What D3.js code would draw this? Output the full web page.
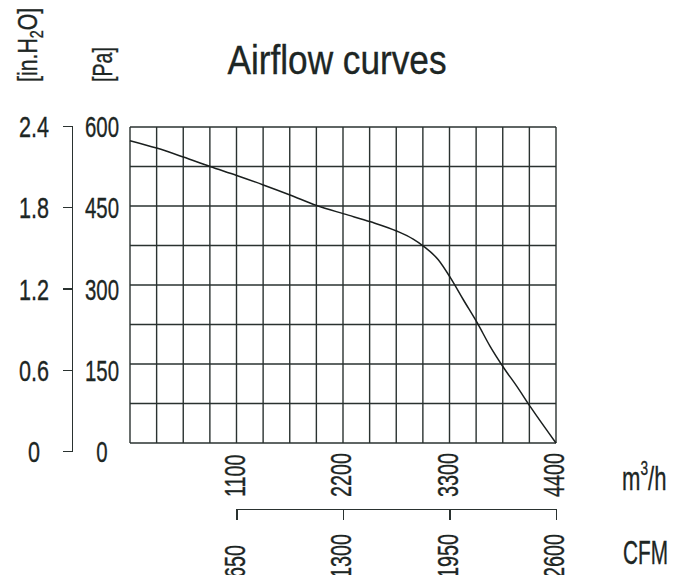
<!DOCTYPE html>
<html lang="en">
<head>
<meta charset="utf-8">
<title>Airflow curves</title>
<script src="https://d3js.org/d3.v7.min.js"></script>
<style>
body { margin: 0; background: #ffffff; }
svg text { font-family: "Liberation Sans Narrow", "Liberation Sans", Arial, sans-serif; fill: #1d2624; stroke: #1d2624; stroke-width: 0.35; }
.axis path, .axis line { fill: none; stroke: #2a3230; stroke-width: 1.3; shape-rendering: crispEdges; }
</style>
</head>
<body>
<script>
// curve: airflow [m3/h] vs static pressure [Pa]
var flowM3h    = [0, 275, 551, 826, 1102, 1377, 1653, 1928, 2210, 2485, 2760, 2925, 3036, 3184, 3312, 3443, 3587, 3718, 3863, 3994, 4138, 4400];
var pressurePa = [574, 560, 543, 525, 508, 490, 471, 451, 435, 420, 402, 387, 373, 348, 313, 272, 228, 184, 142, 108, 68, 0];

var flowTicks   = [1100, 2200, 3300, 4400];
var cfmTicks    = [650, 1300, 1950, 2600];
var paTicks     = [0, 150, 300, 450, 600];
var inH2OTicks  = [0, 0.6, 1.2, 1.8, 2.4];

var width = 674, height = 575;

var svg = d3.select("body").append("svg")
  .attr("width", width)
  .attr("height", height);

// plot area
var x = d3.scaleLinear().domain([0, 4400]).range([130, 556]);
var y = d3.scaleLinear().domain([0, 600]).range([443, 127]);
// label positions on the left run a little further down than the grid
var yLab = d3.scaleLinear().domain([0, 600]).range([451, 126]);
var yIn = d3.scaleLinear().domain([0, 2.4]).range([451, 126]);
var xCfm = d3.scaleLinear().domain([0, 2600]).range([x(0), x(4400)]);

// condensed text helper (no narrow font installed, so squeeze it)
function label(px, py, str, size, sx, rot, anchor) {
  return svg.append("text")
    .attr("transform", "translate(" + px + "," + py + ")" + (rot ? " rotate(" + rot + ")" : "") + " scale(" + sx + ",1)")
    .attr("text-anchor", anchor || "middle")
    .style("font-size", size + "px")
    .text(str);
}

// title
label(337, 74, "Airflow curves", 40, 0.88, 0, "middle");

// grid
var grid = svg.append("g");
grid.selectAll("line.v")
  .data(d3.range(0, 4401, 275))
  .enter().append("line")
  .attr("x1", function(d) { return x(d); })
  .attr("x2", function(d) { return x(d); })
  .attr("y1", y(0)).attr("y2", y(600))
  .style("stroke", "#2a3230").style("stroke-width", 1.4);
grid.selectAll("line.h")
  .data(d3.range(0, 601, 75))
  .enter().append("line")
  .attr("x1", x(0)).attr("x2", x(4400))
  .attr("y1", function(d) { return y(d); })
  .attr("y2", function(d) { return y(d); })
  .style("stroke", "#2a3230").style("stroke-width", 1.4);

// curve
var line = d3.line()
  .x(function(d, i) { return x(flowM3h[i]); })
  .y(function(d) { return y(d); })
  .curve(d3.curveMonotoneX);
svg.append("path")
  .datum(pressurePa)
  .attr("d", line)
  .style("fill", "none")
  .style("stroke", "#1a1f1e")
  .style("stroke-width", 1.5);

// in.H2O bracket axis
svg.append("g")
  .attr("class", "axis")
  .attr("transform", "translate(72,0)")
  .call(d3.axisLeft(yIn).tickValues(inH2OTicks).tickSize(9).tickSizeOuter(9).tickFormat(""));

inH2OTicks.forEach(function(t) {
  label(34, yIn(t) + 11, t === 0 ? "0" : d3.format(".1f")(t), 30, 0.72, 0, "middle");
});
paTicks.forEach(function(t) {
  label(102, yLab(t) + 11, t, 30, 0.68, 0, "middle");
});

// unit labels on the left
var unitIn = svg.append("text")
  .attr("transform", "translate(37,82) rotate(-90) scale(0.76,1)")
  .attr("text-anchor", "start")
  .style("font-size", "28px");
unitIn.append("tspan").text("[in.H");
unitIn.append("tspan").attr("dy", 6).style("font-size", "19px").text("2");
unitIn.append("tspan").attr("dy", -6).text("O]");
label(112, 82, "[Pa]", 28, 0.7, -90, "start");

// m3/h labels
flowTicks.forEach(function(t) {
  label(x(t) + 8, 497, t, 30, 0.66, -90, "start");
});
var unitM = svg.append("text")
  .attr("transform", "translate(622,490) scale(0.65,1)")
  .style("font-size", "34px");
unitM.append("tspan").text("m");
unitM.append("tspan").attr("dy", -15).style("font-size", "21px").text("3");
unitM.append("tspan").attr("dy", 15).text("/h");

// CFM axis
svg.append("g")
  .attr("class", "axis")
  .attr("transform", "translate(0,509)")
  .call(d3.axisBottom(xCfm.copy().domain([650, 2600]).range([xCfm(650), xCfm(2600)]))
    .tickValues(cfmTicks).tickSize(11).tickSizeOuter(11).tickFormat(""));

cfmTicks.forEach(function(t) {
  label(xCfm(t) + 8, 578, t, 30, 0.66, -90, "start");
});
label(623, 564, "CFM", 33, 0.63, 0, "start");
</script>
</body>
</html>
